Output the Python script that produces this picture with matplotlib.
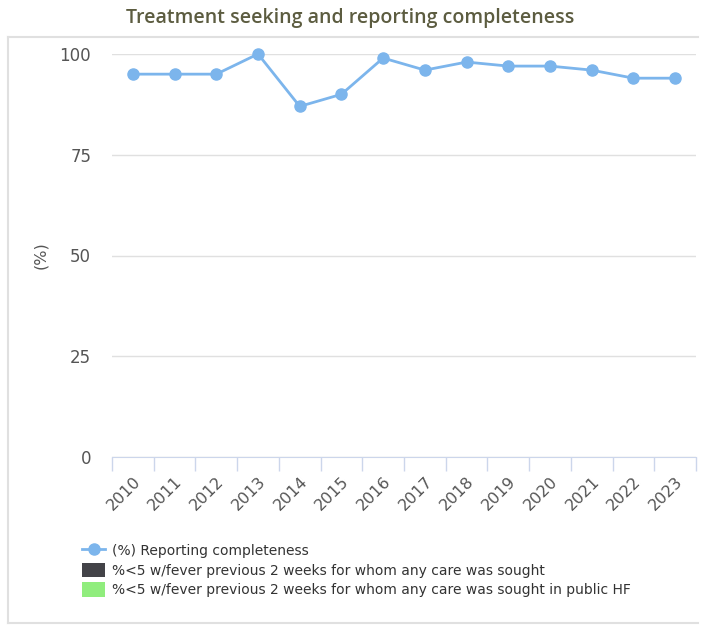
import matplotlib.pyplot as plt
from matplotlib.lines import Line2D
from matplotlib.patches import Patch

years = ['2010', '2011', '2012', '2013', '2014', '2015', '2016',
         '2017', '2018', '2019', '2020', '2021', '2022', '2023']
completeness = [95, 95, 95, 100, 87, 90, 99, 96, 98, 97, 97, 96, 94, 94]
y_ticks = [0, 25, 50, 75, 100]

series_names = ['(%) Reporting completeness',
                '%<5 w/fever previous 2 weeks for whom any care was sought',
                '%<5 w/fever previous 2 weeks for whom any care was sought in public HF']
line_color = '#7cb5ec'
care_color = '#434348'
public_color = '#90ed7d'

plt.rcParams['font.family'] = ['DejaVu Sans']

fig = plt.figure(figsize=(7.05, 6.25), dpi=100)

# outer frame of the chart container
for xs, ys in [([0.012, 0.012], [0.004, 0.941]),
               ([0.012, 0.99], [0.941, 0.941]),
               ([0.012, 0.99], [0.004, 0.004])]:
    fig.add_artist(Line2D(xs, ys, color='#e0e0e0', lw=1.5,
                          transform=fig.transFigure))

fig.text(0.497, 0.972, 'Treatment seeking and reporting completeness',
         ha='center', va='center', fontsize=14, color='#5c5c40',
         family='Open Sans', weight='semibold')

ax = fig.add_axes([0.1589, 0.2688, 0.8283, 0.6448])
x = list(range(len(years)))
ax.plot(x, completeness, color=line_color, lw=2, marker='o', ms=8,
        clip_on=False, zorder=3)

ax.set_xlim(-0.5, len(years) - 0.5)
ax.set_ylim(0, 100)
ax.set_yticks(y_ticks)
ax.set_yticklabels([str(v) for v in y_ticks], fontsize=12, color='#555555')
ax.yaxis.grid(True, color='#e0e0e0', lw=1)
ax.set_axisbelow(True)
ax.tick_params(axis='y', length=0, pad=15)

ax.set_xticks(x)
ax.set_xticklabels(years, rotation=45, ha='right', rotation_mode='anchor',
                   fontsize=11.5, color='#555555')
ax.set_xticks([i - 0.5 for i in range(len(years) + 1)], minor=True)
ax.tick_params(axis='x', which='major', length=0, pad=12)
ax.tick_params(axis='x', which='minor', length=10, color='#ccd6eb', width=1)

for side in ['top', 'right', 'left']:
    ax.spines[side].set_visible(False)
ax.spines['bottom'].set_color('#ccd6eb')

ax.set_ylabel('(%)', fontsize=11.5, color='#555555', labelpad=8)

handles = [Line2D([], [], color=line_color, lw=2, marker='o', ms=8),
           Patch(facecolor=care_color), Patch(facecolor=public_color)]
fig.legend(handles, series_names, loc='upper left',
           bbox_to_anchor=(0.108, 0.14), frameon=False, fontsize=10,
           handlelength=1.7, handleheight=1.2, handletextpad=0.45,
           labelspacing=0.35, borderaxespad=0, labelcolor='#333333')

fig.savefig('out.png', dpi=100)
